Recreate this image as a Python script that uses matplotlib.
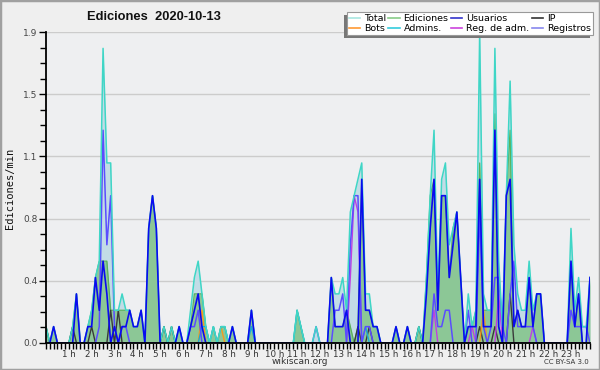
import numpy as np
import matplotlib
matplotlib.use("Agg")
import matplotlib.pyplot as plt
from matplotlib.patches import Rectangle
from matplotlib.lines import Line2D

# ---------------- data (10-minute steps, edits per minute) ----------------
hour_labels = [f"{h} h" for h in range(1, 24)]

total = [
    0.1, 0, 0.1, 0, 0, 0,          # 0h
    0, 0.1, 0.3, 0, 0, 0.1,        # 1h
    0.2, 0.4, 0.5, 1.8, 1.1, 1.1,  # 2h
    0.2, 0.2, 0.3, 0.2, 0.2, 0.1,  # 3h
    0.1, 0.2, 0, 0.7, 0.9, 0.7,    # 4h
    0, 0.1, 0, 0.1, 0, 0.1,        # 5h
    0, 0, 0.2, 0.4, 0.5, 0.3,      # 6h
    0.1, 0, 0.1, 0, 0.1, 0.1,      # 7h
    0, 0.1, 0, 0, 0, 0,            # 8h
    0.2, 0, 0, 0, 0, 0,            # 9h
    0, 0, 0, 0, 0, 0,              # 10h
    0.2, 0.1, 0, 0, 0, 0.1,        # 11h
    0, 0, 0, 0.4, 0.3, 0.3,        # 12h
    0.4, 0.2, 0.8, 0.9, 1.0, 1.1,  # 13h
    0.3, 0.3, 0.1, 0.1, 0, 0,      # 14h
    0, 0, 0.1, 0, 0, 0.1,          # 15h
    0, 0, 0.1, 0, 0.4, 0.9,        # 16h
    1.3, 0.3, 1.0, 1.1, 0.6, 0.7,  # 17h
    0.8, 0.4, 0, 0.3, 0.1, 0.2,    # 18h
    1.9, 0.3, 0.2, 0.2, 1.8, 0.5,  # 19h
    0.1, 0.9, 1.6, 0.6, 0.3, 0.2,  # 20h
    0.2, 0.5, 0.2, 0.3, 0.3, 0,    # 21h
    0, 0, 0, 0, 0, 0,              # 22h
    0.7, 0.2, 0.4, 0.1, 0.1, 0.4,  # 23h
]

ediciones = [
    0.1, 0, 0.1, 0, 0, 0,
    0, 0.1, 0.3, 0, 0, 0.1,
    0.2, 0.4, 0.5, 0.5, 0.5, 0.2,
    0.2, 0.2, 0.2, 0.2, 0.2, 0.1,
    0.1, 0.2, 0, 0.7, 0.9, 0.7,
    0, 0.1, 0, 0.1, 0, 0.1,
    0, 0, 0.1, 0.3, 0.3, 0.3,
    0.1, 0, 0.1, 0, 0.1, 0.1,
    0, 0.1, 0, 0, 0, 0,
    0.2, 0, 0, 0, 0, 0,
    0, 0, 0, 0, 0, 0,
    0.2, 0.1, 0, 0, 0, 0,
    0, 0, 0, 0.4, 0.1, 0.1,
    0.1, 0.2, 0.1, 0, 0.1, 1.0,
    0.2, 0.2, 0.1, 0.1, 0, 0,
    0, 0, 0.1, 0, 0, 0.1,
    0, 0, 0.1, 0, 0.4, 0.9,
    1.0, 0.2, 0.9, 0.9, 0.4, 0.7,
    0.8, 0.4, 0, 0.1, 0.1, 0.2,
    1.1, 0.2, 0.2, 0.2, 1.4, 0.1,
    0, 0.9, 1.3, 0.1, 0.2, 0.1,
    0.1, 0.4, 0.1, 0.3, 0.3, 0,
    0, 0, 0, 0, 0, 0,
    0.5, 0.1, 0.3, 0, 0, 0.4,
]

usuarios = [
    0, 0, 0.1, 0, 0, 0,
    0, 0, 0.3, 0, 0, 0.1,
    0.1, 0.4, 0.2, 0.5, 0.3, 0,
    0.1, 0, 0.1, 0.1, 0.2, 0.1,
    0.1, 0.2, 0, 0.7, 0.9, 0.7,
    0, 0, 0, 0, 0, 0.1,
    0, 0, 0.1, 0.2, 0.3, 0.1,
    0, 0, 0, 0, 0, 0,
    0, 0.1, 0, 0, 0, 0,
    0.2, 0, 0, 0, 0, 0,
    0, 0, 0, 0, 0, 0,
    0, 0, 0, 0, 0, 0,
    0, 0, 0, 0.4, 0.1, 0.1,
    0.1, 0.2, 0, 0, 0, 1.0,
    0.2, 0.2, 0.1, 0.1, 0, 0,
    0, 0, 0.1, 0, 0, 0.1,
    0, 0, 0, 0, 0.3, 0.7,
    1.0, 0.2, 0.9, 0.9, 0.4, 0.6,
    0.8, 0.4, 0, 0.1, 0.1, 0.1,
    1.0, 0.1, 0.1, 0.1, 1.3, 0.1,
    0, 0.9, 1.0, 0.1, 0.2, 0.1,
    0.1, 0.4, 0.1, 0.3, 0.3, 0,
    0, 0, 0, 0, 0, 0,
    0.5, 0.1, 0.3, 0, 0, 0.4,
]

ip = [
    0.1, 0, 0, 0, 0, 0,
    0, 0.1, 0, 0, 0, 0,
    0.1, 0, 0, 0, 0, 0.2,
    0, 0.2, 0, 0, 0, 0,
    0, 0, 0, 0, 0, 0,
    0, 0.1, 0, 0.1, 0, 0,
    0, 0, 0, 0, 0, 0,
    0, 0, 0, 0, 0, 0,
    0, 0, 0, 0, 0, 0,
    0, 0, 0, 0, 0, 0,
    0, 0, 0, 0, 0, 0,
    0, 0, 0, 0, 0, 0,
    0, 0, 0, 0, 0, 0,
    0, 0, 0, 0, 0.1, 0,
    0, 0.1, 0, 0, 0, 0,
    0, 0, 0, 0, 0, 0,
    0, 0, 0.1, 0, 0, 0,
    0, 0, 0, 0, 0, 0,
    0, 0, 0, 0, 0, 0,
    0.1, 0, 0, 0, 0.1, 0,
    0, 0, 0.3, 0, 0, 0,
    0, 0, 0, 0, 0, 0,
    0, 0, 0, 0, 0, 0,
    0, 0, 0, 0, 0, 0,
]

registros = [
    0, 0, 0, 0, 0, 0,
    0, 0, 0, 0, 0, 0,
    0, 0, 0.1, 1.3, 0.6, 0.9,
    0.1, 0, 0.1, 0.1, 0, 0,
    0, 0, 0, 0, 0, 0,
    0, 0, 0, 0, 0, 0,
    0, 0, 0.1, 0.1, 0.2, 0,
    0, 0, 0, 0, 0, 0,
    0, 0, 0, 0, 0, 0,
    0, 0, 0, 0, 0, 0,
    0, 0, 0, 0, 0, 0,
    0, 0, 0, 0, 0, 0.1,
    0, 0, 0, 0, 0.2, 0.2,
    0.3, 0, 0.6, 0.9, 0.9, 0,
    0.1, 0.1, 0, 0, 0, 0,
    0, 0, 0, 0, 0, 0,
    0, 0, 0, 0, 0, 0,
    0.3, 0.1, 0.1, 0.2, 0.2, 0,
    0, 0, 0, 0.2, 0, 0,
    0.8, 0.1, 0, 0.1, 0.4, 0.4,
    0.1, 0, 0.3, 0.5, 0.1, 0.1,
    0.1, 0.1, 0.1, 0, 0, 0,
    0, 0, 0, 0, 0, 0,
    0.2, 0.1, 0.1, 0.1, 0.1, 0,
]

admins = [0] * 144
for i, v in [(41, 0.1), (42, 0.1), (44, 0.1), (46, 0.1), (47, 0.1),
             (54, 0.1), (66, 0.2), (67, 0.1), (84, 0.1)]:
    admins[i] = v

bots = [0] * 144
for i, v in [(41, 0.2), (46, 0.1), (115, 0.2)]:
    bots[i] = v

reg_adm = [0] * 144
for i, v in [(80, 0.4), (81, 0.9), (82, 0.8), (102, 0.2), (112, 0.1),
             (119, 0.3), (128, 0.1)]:
    reg_adm[i] = v

# ---------------- figure ----------------
W, H = 600, 370
fig = plt.figure(figsize=(W / 100, H / 100), dpi=100)
bg = "#efefef"
fig.patch.set_facecolor(bg)


def fx(px):
    return px / W


def fy(py):
    return 1 - py / H


x0, x1, ytop, ybot = 46, 590, 32, 343
ax = fig.add_axes([fx(x0), fy(ybot), fx(x1) - fx(x0), fy(ytop) - fy(ybot)])
ax.set_facecolor("#eeeff1")

x = np.arange(len(total))
T = np.array(total)
E = np.array(ediciones)

ax.fill_between(x, 0, T, color="#c2dce6", lw=0, zorder=1)
ax.fill_between(x, 0, E, color="#78c078", alpha=0.72, lw=0, zorder=2)
ax.plot(x, E, color="#5ab05a", lw=0.9, zorder=3)
ax.plot(x, ip, color="#3a3a3a", lw=1.0, zorder=4)
ax.plot(x, bots, color="#f59a1e", lw=1.0, zorder=4)
ax.plot(x, admins, color="#18a8d8", lw=1.0, zorder=4)
ax.plot(x, reg_adm, color="#c040e0", lw=1.0, zorder=4)
ax.plot(x, registros, color="#5a4cff", lw=1.1, zorder=5)
ax.plot(x, T, color="#3fd6c6", lw=1.1, zorder=5)
ax.plot(x, usuarios, color="#0a0af0", lw=1.2, zorder=6)

ax.set_xlim(0, len(total) - 1)
ax.set_ylim(0, 1.9)

yt = [0.38 * k for k in range(6)]
ax.set_yticks(yt)
ax.set_yticklabels([f"{v:.1f}" for v in yt])
ax.set_yticks(np.arange(0, 1.9001, 0.095), minor=True)
ax.set_xticks([6 * h for h in range(1, 24)])
ax.set_xticklabels(hour_labels)
ax.set_xticks(np.arange(0, 144, 1), minor=True)

ax.grid(axis="y", which="major", color="#cccccc", lw=1, zorder=0)
ax.set_axisbelow(True)
for s in ("top", "right"):
    ax.spines[s].set_visible(False)
for s in ("left", "bottom"):
    ax.spines[s].set_color("black")
    ax.spines[s].set_linewidth(1.3)
    ax.spines[s].set_zorder(10)

ax.tick_params(axis="y", which="major", length=5, width=1, color="black",
               labelsize=6.5, labelcolor="#444444", pad=1)
ax.tick_params(axis="y", which="minor", length=4, width=1, color="black")
ax.tick_params(axis="x", which="both", length=4, width=1, color="black",
               labelsize=6.3, labelcolor="#333333", pad=1)

# texts
fig.text(fx(154), fy(17), "Ediciones  2020-10-13", ha="center", va="center",
         fontsize=9.3, fontweight="bold", family="Liberation Sans", color="#111111")
fig.text(fx(10), fy(188), "Ediciones/min", rotation=90, ha="center", va="center",
         fontsize=7.5, family="DejaVu Sans Mono", color="#111111")
fig.text(fx(300), fy(362), "wikiscan.org", ha="center", va="center",
         fontsize=6.5, color="#333333")
fig.text(fx(589), fy(362), "CC BY-SA 3.0", ha="right", va="center",
         fontsize=5, color="#333333")

# legend
names = ["Total", "Bots", "Ediciones", "Admins.", "Usuarios", "Reg. de adm.",
         "IP", "Registros"]
cols = ["#a8e6e0", "#ff9933", "#88cc88", "#33ccdd", "#3333cc", "#cc44dd",
        "#333333", "#8888ee"]
handles = [Line2D([], [], color=c, lw=1.2) for c in cols]
leg = fig.legend(handles, names, ncol=4, loc="upper right",
                 bbox_to_anchor=(fx(593), fy(11.5)), fontsize=6.8,
                 frameon=True, fancybox=False, edgecolor="#999999",
                 framealpha=1, facecolor="white", handlelength=1.2,
                 handletextpad=0.4, columnspacing=0.25, labelspacing=0.1,
                 borderpad=0.25, borderaxespad=0)
leg.get_frame().set_linewidth(0.8)
leg.set_zorder(6)
fig.canvas.draw()
bb = leg.get_window_extent()
fig.patches.append(Rectangle((bb.x0 - 3, bb.y0 - 3), bb.width, bb.height,
                             transform=None, facecolor="#777777",
                             edgecolor="none", zorder=5, figure=fig))

# border
fig.patches.append(Rectangle((0, 0), 1, 1, transform=fig.transFigure,
                             fill=False, edgecolor="#a0a0a0", lw=2.5,
                             zorder=20, figure=fig))

fig.savefig("out.png", dpi=100, facecolor=bg)
